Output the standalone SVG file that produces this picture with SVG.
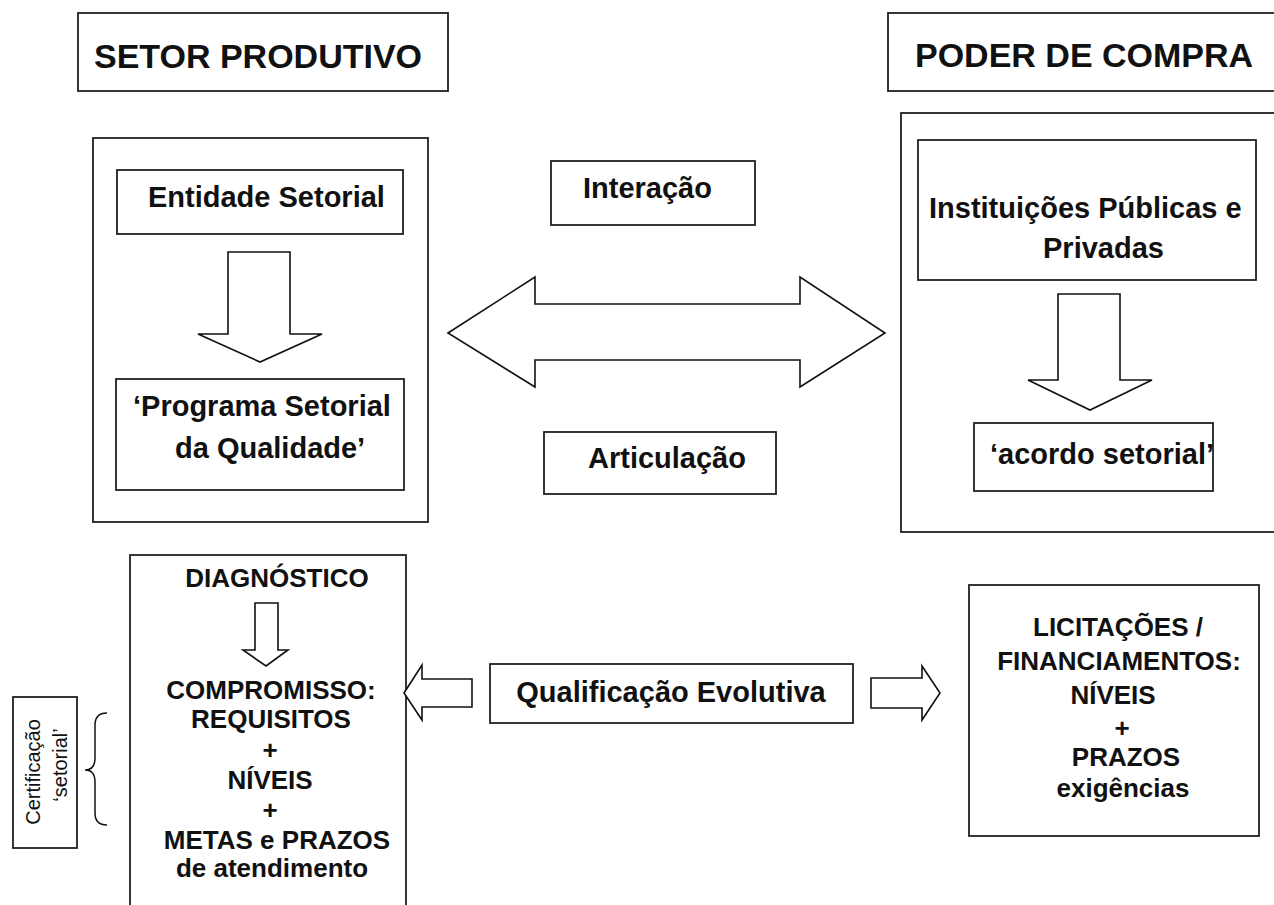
<svg xmlns="http://www.w3.org/2000/svg" width="1274" height="905" viewBox="0 0 1274 905">
<style>
  .box { fill: #ffffff; stroke: #222222; stroke-width: 1.8; }
  .arrow { fill: #ffffff; stroke: #111111; stroke-width: 1.6; stroke-linejoin: miter; }
  .t { font-family: "Liberation Sans", Arial, sans-serif; font-weight: bold; fill: #111111; }
  .h { font-size: 34px; }
  .m { font-size: 29px; }
  .s { font-size: 26px; }
  .c { text-anchor: middle; }
  .r { font-family: "Liberation Sans", Arial, sans-serif; font-size: 20px; fill: #111111; text-anchor: middle; }
</style>
<rect width="1274" height="905" fill="#ffffff"/>

<g id="setor-produtivo">
  <rect class="box" x="78" y="13" width="370" height="78"/>
  <text class="t h c" x="258" y="68">SETOR PRODUTIVO</text>
</g>
<g id="poder-de-compra">
  <rect class="box" x="888" y="13" width="400" height="78"/>
  <text class="t h" x="915" y="67">PODER DE COMPRA</text>
</g>

<g id="setor-container">
  <rect class="box" x="93" y="138" width="335" height="384"/>
</g>
<g id="entidade-setorial">
  <rect class="box" x="117" y="170" width="286" height="64"/>
  <text class="t m" x="148" y="207">Entidade Setorial</text>
</g>
<g id="programa-setorial">
  <rect class="box" x="116" y="379" width="288" height="111"/>
  <text class="t m" x="133" y="416">‘Programa Setorial</text>
  <text class="t m" x="175" y="458">da Qualidade’</text>
</g>

<g id="interacao">
  <rect class="box" x="551" y="161" width="204" height="64"/>
  <text class="t m" x="583" y="198">Interação</text>
</g>
<g id="articulacao">
  <rect class="box" x="544" y="432" width="232" height="62"/>
  <text class="t m" x="588" y="468">Articulação</text>
</g>

<g id="poder-container">
  <rect class="box" x="901" y="113" width="390" height="419"/>
</g>
<g id="instituicoes">
  <rect class="box" x="918" y="140" width="338" height="140"/>
  <text class="t m" x="929" y="218">Instituições Públicas e</text>
  <text class="t m" x="1043" y="258">Privadas</text>
</g>
<g id="acordo-setorial">
  <rect class="box" x="974" y="423" width="239" height="68"/>
  <text class="t m" x="990" y="464">‘acordo setorial’</text>
</g>

<g id="compromisso">
  <rect class="box" x="130" y="555" width="276" height="360"/>
  <text class="t s c" x="277" y="587">DIAGNÓSTICO</text>
  <text class="t s c" x="271" y="699">COMPROMISSO:</text>
  <text class="t s c" x="271" y="728">REQUISITOS</text>
  <text class="t s c" x="270" y="759">+</text>
  <text class="t s c" x="270" y="789">NÍVEIS</text>
  <text class="t s c" x="270" y="819">+</text>
  <text class="t s c" x="277" y="849">METAS e PRAZOS</text>
  <text class="t s c" x="272" y="877">de atendimento</text>
</g>

<g id="certificacao">
  <rect class="box" x="13" y="697" width="64" height="151"/>
  <text class="r" transform="translate(40,772) rotate(-90)">Certificação</text>
  <text class="r" transform="translate(67,765) rotate(-90)">‘setorial’</text>
</g>

<g id="qualificacao">
  <rect class="box" x="490" y="664" width="363" height="59"/>
  <text class="t m c" x="671" y="702">Qualificação Evolutiva</text>
</g>

<g id="licitacoes">
  <rect class="box" x="969" y="585" width="290" height="251"/>
  <text class="t s c" x="1118" y="636">LICITAÇÕES /</text>
  <text class="t s c" x="1119" y="670">FINANCIAMENTOS:</text>
  <text class="t s c" x="1113" y="704">NÍVEIS</text>
  <text class="t s c" x="1122" y="737">+</text>
  <text class="t s c" x="1126" y="766">PRAZOS</text>
  <text class="t s c" x="1123" y="797">exigências</text>
</g>

<g id="connectors">
  <polygon class="arrow" points="228,252 290,252 290,334 322,334 260,362 198,334 228,334"/>
  <polygon class="arrow" points="1058,294 1120,294 1120,380 1152,380 1090,410 1028,380 1058,380"/>
  <polygon class="arrow" points="448,333 535,277 535,304 800,304 800,277 885,333 800,387 800,360 535,360 535,387"/>
  <polygon class="arrow" points="255,603 278,603 278,650 288,650 266,666 243,650 255,650"/>
  <polygon class="arrow" points="404,693 422,665 422,679 472,679 472,707 422,707 422,720"/>
  <polygon class="arrow" points="871,678 922,678 922,666 940,693 922,720 922,708 871,708"/>
  <path d="M107,713 Q95,713 95,725 L95,758 Q95,770 85,770 Q95,770 95,782 L95,813 Q95,825 107,825" fill="none" stroke="#111111" stroke-width="1.5"/>
</g>
</svg>
